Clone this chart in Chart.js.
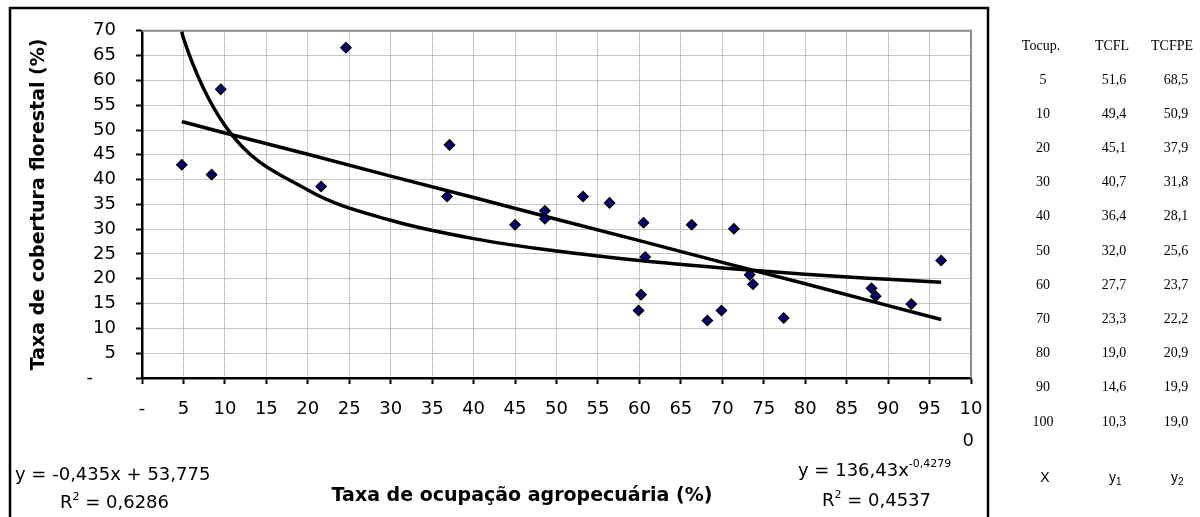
<!DOCTYPE html>
<html>
<head>
<meta charset="utf-8">
<script src="https://cdn.jsdelivr.net/npm/chart.js@4.4.1/dist/chart.umd.min.js"></script>
<style>
  body { margin: 0; background: #fff; }
</style>
</head>
<body>
<canvas id="ocupChart" width="1200" height="517"></canvas>
<script>
// Pontos observados
const ocupX = [4.8, 8.4, 9.5, 21.6, 24.6, 36.8, 37.1, 45.0, 48.6, 48.6, 53.2, 56.4, 59.9, 60.2,
    60.5, 60.7, 66.3, 68.2, 69.9, 71.4, 73.3, 73.7, 77.4, 88.0, 88.5, 92.8, 96.4];
const coberturaY = [43.0, 41.0, 58.2, 38.6, 66.6, 36.6, 47.0, 30.9, 33.7, 32.1, 36.6, 35.3, 13.6, 16.8,
    31.3, 24.4, 30.9, 11.6, 13.6, 30.1, 20.8, 18.9, 12.1, 18.1, 16.5, 14.9, 23.7];

// Tabela (Tocup., TCFL, TCFPE)
const tocup = [5, 10, 20, 30, 40, 50, 60, 70, 80, 90, 100];
const tcfl = [51.6, 49.4, 45.1, 40.7, 36.4, 32.0, 27.7, 23.3, 19.0, 14.6, 10.3];
const tcfpe = [68.5, 50.9, 37.9, 31.8, 28.1, 25.6, 23.7, 22.2, 20.9, 19.9, 19.0];

// extremos das linhas de tendencia
const trendX = [4.8, 96.4];
const linEnds = [51.7, 11.8];
const powEnds = [69.8, 19.3];

const eqLinear = 'y = -0,435x + 53,775';
const r2Linear = '0,6286';
const eqPowerBase = 'y = 136,43x';
const eqPowerExp = '-0,4279';
const r2Power = '0,4537';

const FONT = '"DejaVu Sans", sans-serif';

function trendPoints(ends, values) {
    const pts = [{x: trendX[0], y: ends[0]}];
    tocup.forEach((x, i) => {
        if (x > trendX[0] && x < trendX[1]) pts.push({x: x, y: values[i]});
    });
    pts.push({x: trendX[1], y: ends[1]});
    return pts;
}

const fmt = v => v.toFixed(1).replace('.', ',');

// texto com sobrescrito
function drawRich(ctx, x, y, parts, size, small, shift) {
    parts.forEach(([txt, raised]) => {
        ctx.font = (raised ? small : size) + 'px ' + FONT;
        ctx.fillText(txt, x, raised ? y - shift : y);
        x += ctx.measureText(txt).width;
    });
}

const extrasPlugin = {
    id: 'extras',
    beforeDatasetsDraw(chart) {
        const {ctx, chartArea: a} = chart;
        ctx.save();
        ctx.strokeStyle = '#8c8c8c';
        ctx.lineWidth = 2;
        ctx.beginPath();
        ctx.moveTo(a.left, a.top);
        ctx.lineTo(a.right, a.top);
        ctx.lineTo(a.right, a.bottom);
        ctx.stroke();
        ctx.restore();
    },
    afterDraw(chart) {
        const ctx = chart.ctx;
        ctx.save();
        // moldura
        ctx.strokeStyle = '#000';
        ctx.lineWidth = 2.5;
        ctx.strokeRect(10, 8, 978, 515);

        ctx.fillStyle = '#000';
        ctx.textBaseline = 'alphabetic';

        // titulo do eixo x
        ctx.textAlign = 'center';
        ctx.font = 'bold 19px ' + FONT;
        ctx.fillText('Taxa de ocupação agropecuária (%)', 522, 501);

        // equacoes
        ctx.textAlign = 'left';
        drawRich(ctx, 15, 480, [[eqLinear, false]], 18, 11, 8);
        drawRich(ctx, 60, 508, [['R', false], ['2', true], [' = ' + r2Linear, false]], 18, 11, 8);
        drawRich(ctx, 798, 476, [[eqPowerBase, false], [eqPowerExp, true]], 18, 11, 9);
        drawRich(ctx, 822, 506, [['R', false], ['2', true], [' = ' + r2Power, false]], 18, 11, 8);

        // tabela
        ctx.textAlign = 'center';
        ctx.textBaseline = 'middle';
        ctx.font = '14px "Liberation Serif", serif';
        ctx.fillText('Tocup.', 1041, 46);
        ctx.fillText('TCFL', 1112, 46);
        ctx.fillText('TCFPE', 1172, 46);
        tocup.forEach((t, i) => {
            const y = 80 + 34.2 * i;
            ctx.fillText(String(t), 1043, y);
            ctx.fillText(fmt(tcfl[i]), 1114, y);
            ctx.fillText(fmt(tcfpe[i]), 1176, y);
        });
        ctx.font = '14px "Liberation Sans", sans-serif';
        ctx.fillText('X', 1045, 478);
        ctx.textAlign = 'left';
        [[1109, '1'], [1171, '2']].forEach(([x, s]) => {
            ctx.font = '14px "Liberation Sans", sans-serif';
            ctx.fillText('y', x, 478);
            const w = ctx.measureText('y').width;
            ctx.font = '10px "Liberation Sans", sans-serif';
            ctx.fillText(s, x + w, 482);
        });
        ctx.restore();
    }
};

const tickFont = {family: FONT, size: 18};
const gridOpts = {color: '#8f8f8f', lineWidth: 1, tickLength: 6, tickColor: '#000', tickWidth: 2, tickBorderDash: []};
const axisBorder = {color: '#000', width: 2.5, dash: [1, 1]};

const ocupChart = new Chart(document.getElementById('ocupChart'), {
    type: 'scatter',
    data: {
        datasets: [{
            label: 'Observado',
            data: ocupX.map((x, i) => ({x: x, y: coberturaY[i]})),
            pointStyle: 'rectRot',
            pointRadius: 5,
            pointBackgroundColor: '#000080',
            pointBorderColor: '#000',
            pointBorderWidth: 1.5,
            order: 0
        }, {
            label: 'Linear',
            data: trendPoints(linEnds, tcfl),
            showLine: true,
            borderColor: '#000',
            borderWidth: 3.5,
            pointRadius: 0,
            order: 1
        }, {
            label: 'Potencia',
            data: trendPoints(powEnds, tcfpe),
            showLine: true,
            borderColor: '#000',
            borderWidth: 3.5,
            pointRadius: 0,
            cubicInterpolationMode: 'monotone',
            order: 1
        }]
    },
    options: {
        responsive: false,
        animation: false,
        devicePixelRatio: 1,
        layout: {padding: {left: 0, top: 29, right: 229, bottom: 0}},
        plugins: {legend: {display: false}, tooltip: {enabled: false}},
        scales: {
            x: {
                type: 'linear',
                min: 0,
                max: 100,
                afterFit: s => { s.height = 139; },
                ticks: {
                    stepSize: 5,
                    autoSkip: false,
                    maxRotation: 0,
                    padding: 10,
                    color: '#000',
                    font: {family: FONT, size: 18, lineHeight: 1.75},
                    callback: v => v === 0 ? '-' : (v === 100 ? ['10', '0 '] : v)
                },
                grid: gridOpts,
                border: axisBorder
            },
            y: {
                min: 0,
                max: 70,
                afterFit: s => { s.width = 142; },
                ticks: {
                    stepSize: 5,
                    padding: 20,
                    color: '#000',
                    font: tickFont,
                    callback: v => v === 0 ? '-    ' : v
                },
                title: {
                    display: true,
                    text: 'Taxa de cobertura florestal (%)',
                    color: '#000',
                    font: {family: FONT, size: 19, weight: 'bold'},
                    padding: {top: 28, bottom: 0}
                },
                grid: gridOpts,
                border: axisBorder
            }
        }
    },
    plugins: [extrasPlugin]
});
</script>
</body>
</html>
